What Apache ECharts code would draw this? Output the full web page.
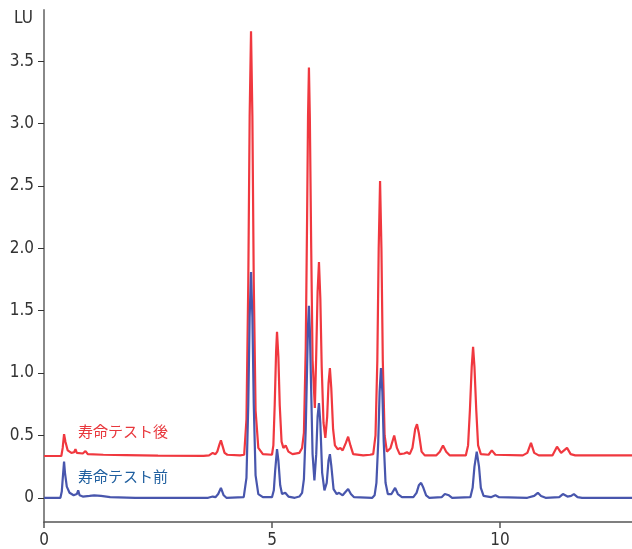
<!DOCTYPE html>
<html>
<head>
<meta charset="utf-8">
<script src="https://cdn.jsdelivr.net/npm/echarts@6/dist/echarts.min.js"></script>
<style>
html,body{margin:0;padding:0;background:#fff;}
#c{width:632px;height:549px;}
</style>
</head>
<body>
<div id="c"></div>
<script>
// Series names (labels)
var seriesNames = ['寿命テスト後', '寿命テスト前'];
// Tick labels
var xTicks = [0, 5, 10];
var yTicks = [0, 0.5, 1.0, 1.5, 2.0, 2.5, 3.0, 3.5];
var yUnit = 'LU';

// 寿命テスト後 (after life test) trace, [time, LU]
var afterTrace = [
  [0,0.335],[0.38,0.335],[0.41,0.40],[0.44,0.51],[0.47,0.45],[0.52,0.38],[0.60,0.36],[0.66,0.365],
  [0.69,0.39],[0.72,0.36],[0.85,0.355],[0.91,0.375],[0.96,0.35],[1.3,0.345],[1.8,0.342],[2.5,0.338],
  [3.5,0.336],[3.62,0.34],[3.70,0.36],[3.76,0.35],[3.80,0.37],[3.85,0.43],[3.88,0.46],[3.92,0.41],[3.96,0.36],[4.02,0.345],
  [4.30,0.34],[4.39,0.345],[4.44,0.63],[4.48,1.73],[4.51,3.06],[4.54,3.74],[4.57,3.06],[4.60,1.73],
  [4.64,0.70],[4.70,0.40],[4.80,0.35],[5.00,0.345],[5.03,0.42],[5.06,0.75],[5.09,1.17],[5.11,1.33],
  [5.14,1.13],[5.17,0.74],[5.21,0.45],[5.25,0.40],[5.30,0.42],[5.36,0.37],[5.45,0.35],[5.60,0.36],
  [5.66,0.40],[5.70,0.52],[5.74,1.2],[5.77,2.25],[5.79,3.05],[5.81,3.45],[5.83,3.05],[5.86,2.0],
  [5.89,1.1],[5.94,0.72],[5.97,1.15],[6.00,1.65],[6.03,1.89],[6.06,1.6],[6.09,1.05],[6.13,0.6],
  [6.17,0.48],[6.21,0.65],[6.24,0.92],[6.27,1.04],[6.30,0.88],[6.34,0.55],[6.38,0.42],[6.41,0.41],
  [6.44,0.39],[6.47,0.40],[6.50,0.40],[6.55,0.38],[6.62,0.44],[6.67,0.49],[6.72,0.42],[6.78,0.35],
  [7.00,0.34],[7.15,0.345],[7.22,0.35],[7.27,0.50],[7.31,1.1],[7.34,2.0],[7.37,2.54],[7.40,2.0],
  [7.43,1.1],[7.47,0.50],[7.52,0.37],[7.60,0.40],[7.68,0.50],[7.74,0.40],[7.80,0.35],[7.90,0.355],
  [7.96,0.365],[8.02,0.35],[8.08,0.40],[8.14,0.55],[8.18,0.59],[8.22,0.52],[8.28,0.37],[8.35,0.34],
  [8.60,0.34],[8.68,0.37],[8.75,0.42],[8.82,0.37],[8.90,0.34],[9.25,0.34],[9.30,0.42],[9.34,0.70],
  [9.38,1.05],[9.41,1.21],[9.44,1.05],[9.48,0.70],[9.52,0.42],[9.58,0.35],[9.75,0.345],[9.82,0.38],
  [9.90,0.345],[10.5,0.34],[10.6,0.36],[10.68,0.44],[10.75,0.36],[10.85,0.34],[11.15,0.34],[11.25,0.41],
  [11.34,0.36],[11.47,0.40],[11.55,0.35],[11.65,0.34],[12.9,0.34]
];

// 寿命テスト前 (before life test) trace, [time, LU]
var beforeTrace = [
  [0,0.0],[0.36,0.0],[0.39,0.05],[0.41,0.15],[0.42,0.16],[0.44,0.29],[0.46,0.20],[0.50,0.09],
  [0.56,0.04],[0.65,0.02],[0.72,0.03],[0.75,0.06],[0.78,0.02],[0.85,0.01],[1.0,0.015],[1.1,0.02],
  [1.25,0.015],[1.45,0.005],[2.0,0.0],[3.6,0.0],[3.70,0.01],[3.76,0.005],[3.82,0.03],[3.88,0.08],
  [3.94,0.02],[4.00,0.0],[4.38,0.005],[4.44,0.16],[4.48,0.75],[4.51,1.45],[4.54,1.81],[4.57,1.45],
  [4.60,0.75],[4.64,0.18],[4.70,0.03],[4.80,0.005],[5.00,0.005],[5.04,0.06],[5.07,0.22],[5.11,0.39],
  [5.14,0.30],[5.18,0.10],[5.22,0.03],[5.29,0.04],[5.36,0.01],[5.50,0.0],[5.60,0.01],[5.66,0.04],
  [5.70,0.15],[5.74,0.55],[5.77,1.05],[5.79,1.38],[5.81,1.54],[5.83,1.35],[5.86,0.85],[5.89,0.35],
  [5.93,0.14],[5.97,0.35],[6.00,0.65],[6.03,0.76],[6.06,0.60],[6.10,0.20],[6.15,0.06],[6.20,0.12],
  [6.24,0.30],[6.27,0.35],[6.30,0.26],[6.35,0.07],[6.42,0.03],[6.47,0.04],[6.55,0.02],[6.62,0.05],
  [6.67,0.07],[6.73,0.03],[6.80,0.005],[7.20,0.0],[7.25,0.02],[7.29,0.12],[7.33,0.45],[7.36,0.85],
  [7.39,1.04],[7.42,0.85],[7.45,0.45],[7.49,0.12],[7.54,0.03],[7.62,0.03],[7.70,0.08],[7.76,0.03],
  [7.85,0.005],[8.10,0.005],[8.17,0.04],[8.22,0.10],[8.27,0.12],[8.32,0.08],[8.38,0.02],[8.45,0.0],
  [8.72,0.005],[8.79,0.03],[8.83,0.04],[8.88,0.02],[8.95,0.0],[9.35,0.005],[9.40,0.08],[9.44,0.25],
  [9.49,0.37],[9.54,0.25],[9.58,0.08],[9.64,0.015],[9.80,0.005],[9.90,0.02],[9.98,0.005],[10.6,0.0],
  [10.75,0.015],[10.83,0.04],[10.9,0.015],[11.0,0.0],[11.3,0.005],[11.38,0.03],[11.48,0.01],[11.56,0.015],
  [11.62,0.03],[11.7,0.005],[11.8,0.0],[12.9,0.0]
];

var axisFont = "'Liberation Sans Narrow','DejaVu Sans Condensed','Roboto',sans-serif";
var cjkFont = "'Noto Sans CJK JP','Noto Sans',sans-serif";

var chart = echarts.init(document.getElementById('c'), null, {renderer:'canvas'});
chart.setOption({
  animation: false,
  backgroundColor: '#ffffff',
  grid: {left: 44, right: 0, top: 10, bottom: 26, containLabel: false},
  xAxis: {
    type: 'value', min: 0, max: 12.895,
    axisLine: {show: true, onZero: false, lineStyle: {color: '#555', width: 1.5}},
    axisTick: {show: true, length: 6, customValues: xTicks, lineStyle: {color: '#555', width: 1.5}},
    axisLabel: {customValues: xTicks, color: '#333', fontSize: 17, fontFamily: axisFont, margin: 10},
    splitLine: {show: false}
  },
  yAxis: {
    type: 'value', min: -0.194, max: 3.911,
    axisLine: {show: true, onZero: false, lineStyle: {color: '#888', width: 2}},
    axisTick: {show: true, length: 6, customValues: yTicks, lineStyle: {color: '#333', width: 1}},
    axisLabel: {customValues: yTicks, color: '#333', fontSize: 17, fontFamily: axisFont, margin: 10,
      formatter: function(v){ return v === 0 ? '0' : v.toFixed(1); }},
    splitLine: {show: false}
  },
  graphic: [
    {type:'text', left: 14, top: 10, style:{text: yUnit, fill:'#333', font: '17px ' + axisFont}},
    {type:'text', left: 78, top: 424, style:{text: seriesNames[0], fill:'#e8383d', font: '15px ' + cjkFont}},
    {type:'text', left: 78, top: 469, style:{text: seriesNames[1], fill:'#1f5f9f', font: '15px ' + cjkFont}}
  ],
  series: [
    {name: seriesNames[0], type: 'line', data: afterTrace, showSymbol: false, symbol: 'none',
     lineStyle: {color: '#f0383f', width: 2.2}, z: 2},
    {name: seriesNames[1], type: 'line', data: beforeTrace, showSymbol: false, symbol: 'none',
     lineStyle: {color: '#4856ad', width: 2.2}, z: 3}
  ]
});
</script>
</body>
</html>
